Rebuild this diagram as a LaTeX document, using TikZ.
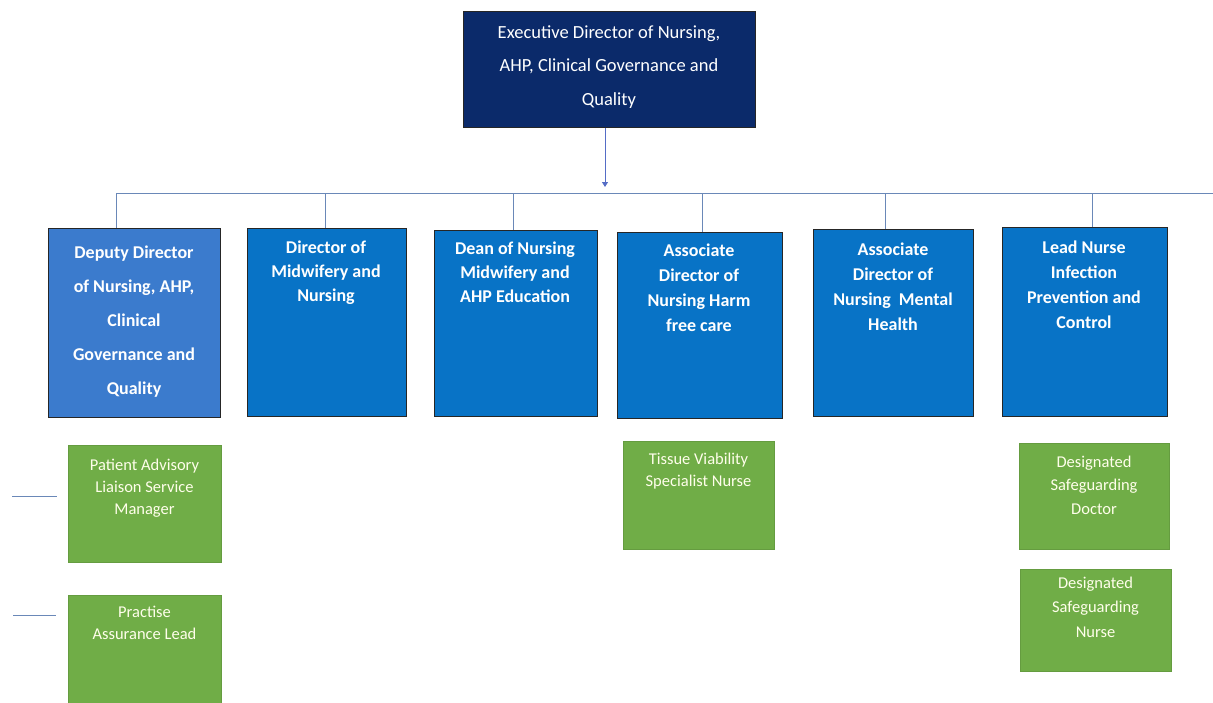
\documentclass[tikz,border=0pt]{standalone}
\usepackage{fontspec}
\setmainfont{Carlito}
\usetikzlibrary{arrows.meta}
\definecolor{navy}{HTML}{0B2A6A}
\definecolor{lblue}{HTML}{3B7BCD}
\definecolor{mblue}{HTML}{0873C6}
\definecolor{ggreen}{HTML}{70AD47}
\definecolor{conn}{HTML}{6A88B8}
\tikzset{
  x=1pt,y=-1pt,
  boxb/.style={draw=black!85,line width=0.8pt,inner sep=0pt,anchor=north west},
  boxg/.style={fill=ggreen,draw=ggreen!90!black,line width=0.4pt,inner sep=0pt,anchor=north west},
  btext/.style={text=white,align=center,inner sep=0pt,anchor=base,font=\bfseries\fontsize{18}{24}\selectfont},
  gtext/.style={text=white!92!yellow,align=center,inner sep=0pt,anchor=base,font=\fontsize{16.5}{22}\selectfont},
  ttext/.style={text=white,align=center,inner sep=0pt,anchor=base,font=\fontsize{18.5}{33.5}\selectfont},
  wire/.style={draw=conn,line width=0.8pt},
}
\begin{document}
\begin{tikzpicture}
\useasboundingbox (0,0) rectangle (1213,702);
\fill[white] (0,0) rectangle (1213,702);
% top box
\node[boxb,fill=navy,minimum width=292,minimum height=116] (top) at (463,11) {};
\node[ttext] (toptxt) at (609,105) {Executive Director of Nursing,\\AHP, Clinical Governance and\\Quality};
% blue boxes
\node[boxb,fill=lblue,minimum width=172,minimum height=189] (b1) at (48,228) {};
\node[boxb,fill=mblue,minimum width=159,minimum height=188] (b2) at (247,228) {};
\node[boxb,fill=mblue,minimum width=163,minimum height=186] (b3) at (434,230) {};
\node[boxb,fill=mblue,minimum width=165,minimum height=186] (b4) at (617,232) {};
\node[boxb,fill=mblue,minimum width=160,minimum height=187] (b5) at (813,229) {};
\node[boxb,fill=mblue,minimum width=165,minimum height=189] (b6) at (1002,227) {};
\node[btext,font=\bfseries\fontsize{18}{34}\selectfont] (t1) at (134,394) {Deputy Director\\of Nursing, AHP,\\Clinical\\Governance and\\Quality};
\node[btext] (t2) at (326,301) {Director of\\Midwifery and\\Nursing};
\node[btext] (t3) at (515,302) {Dean of Nursing\\Midwifery and\\AHP Education};
\node[btext,font=\bfseries\fontsize{18}{25}\selectfont] (t4) at (699,331) {Associate\\Director of\\Nursing Harm\\free care};
\node[btext,font=\bfseries\fontsize{18}{25}\selectfont] (t5) at (893,330) {Associate\\Director of\\Nursing\ \ Mental\\Health};
\node[btext,font=\bfseries\fontsize{18}{25}\selectfont] (t6) at (1084,328) {Lead Nurse\\Infection\\Prevention and\\Control};
% green boxes
\node[boxg,minimum width=153,minimum height=117] (g1) at (68,445) {};
\node[boxg,minimum width=153,minimum height=110] (g2) at (68,595) {};
\node[boxg,minimum width=151,minimum height=108] (g3) at (623,441) {};
\node[boxg,minimum width=150,minimum height=106] (g4) at (1019,443) {};
\node[boxg,minimum width=151,minimum height=102] (g5) at (1020,569) {};
\node[gtext] (gt1) at (144.5,514) {Patient Advisory\\Liaison Service\\Manager};
\node[gtext] (gt2) at (144.5,639) {Practise\\Assurance Lead};
\node[gtext] (gt3) at (698.5,486) {Tissue Viability\\Specialist Nurse};
\node[gtext,font=\fontsize{16.5}{23.5}\selectfont] (gt4) at (1094,514) {Designated\\Safeguarding\\Doctor};
\node[gtext,font=\fontsize{16.5}{24.5}\selectfont] (gt5) at (1095.5,637) {Designated\\Safeguarding\\Nurse};
% connectors
\coordinate (arrEnd) at (605,187);
\coordinate (busL) at (116,193);
\coordinate (busR) at (1213,193);
\draw[wire,draw=conn!80!blue,-{Triangle[width=6pt,length=5pt]}] (top.south -| arrEnd) -- (arrEnd);
\draw[wire] (busL) -- (busR);
\foreach \n/\xx in {b1/116,b2/325,b3/513,b4/702,b5/885,b6/1092}{
  \coordinate (d\n) at (\xx,193);
  \draw[wire] (d\n) -- (d\n |- \n.north);
}
\coordinate (s1a) at (12,496); \coordinate (s1b) at (57,496);
\coordinate (s2a) at (13,615); \coordinate (s2b) at (56,615);
\draw[wire] (s1a) -- (s1b);
\draw[wire] (s2a) -- (s2b);
\end{tikzpicture}
\end{document}
